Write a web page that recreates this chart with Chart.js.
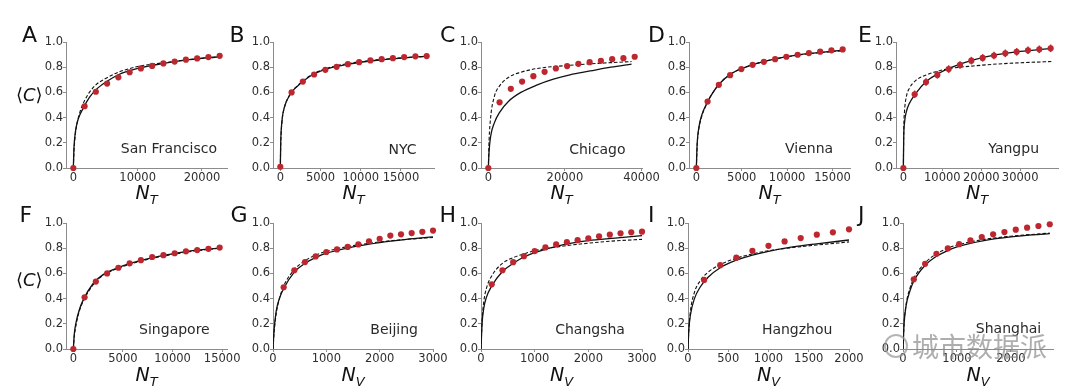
<!DOCTYPE html>
<html>
<head>
<meta charset="utf-8">
<script src="https://cdn.jsdelivr.net/npm/chart.js@4.4.1/dist/chart.umd.min.js"></script>
<style>
  body { margin: 0; width: 1080px; height: 391px; overflow: hidden; position: relative; background: #fff; font-family: "DejaVu Sans", sans-serif; }
  canvas { position: absolute; }
  .lbl { position: absolute; white-space: nowrap; line-height: 1; }
  .letter { font-size: 22px; color: #111; }
  .city { font-size: 14px; color: #2a2a2a; }
  .ylab { font-size: 18px; color: #111; }
  .xt { font-size: 19px; font-style: italic; color: #111; transform: translateX(-50%); }
  .xt sub { font-size: 13px; line-height: 0; }
  .wm { font-family: "Noto Sans CJK SC", sans-serif; font-size: 27px; color: rgba(140,140,140,0.7); }
  .wmicon { position: absolute; width: 20px; height: 20px; border: 2px solid rgba(150,150,150,0.7); border-radius: 50%; }
</style>
</head>
<body>
<script>
// shared y ticks
const yTicks = [0, 0.2, 0.4, 0.6, 0.8, 1.0];
// half length of error bars per panel (A..J)
const errHalf = [0.015, 0.012, 0.01, 0.012, 0.03, 0.012, 0.015, 0.008, 0.008, 0.008];

// A - San Francisco
const aDotX = [0, 1750, 3500, 5250, 7000, 8750, 10500, 12250, 14000, 15750, 17500, 19250, 21000, 22750];
const aDotY = [0, 0.49, 0.605, 0.67, 0.72, 0.76, 0.79, 0.81, 0.83, 0.845, 0.86, 0.87, 0.88, 0.89];
const aCurveX = [0, 100, 300, 600, 1000, 1700, 2500, 3500, 5000, 7000, 10000, 14000, 18000, 23000];
const aSolid = [0, 0.16, 0.28, 0.36, 0.42, 0.49, 0.56, 0.62, 0.68, 0.74, 0.79, 0.83, 0.86, 0.885];
const aDash = [0, 0.13, 0.26, 0.36, 0.44, 0.53, 0.6, 0.66, 0.71, 0.76, 0.805, 0.835, 0.86, 0.882];
const aTicks = [0, 10000, 20000];

// B - NYC
const bDotX = [0, 1400, 2800, 4200, 5600, 7000, 8400, 9800, 11200, 12600, 14000, 15400, 16800, 18200];
const bDotY = [0.01, 0.6, 0.686, 0.742, 0.779, 0.803, 0.824, 0.84, 0.854, 0.864, 0.872, 0.88, 0.886, 0.888];
const bCurveX = [0, 50, 200, 500, 1000, 1500, 2500, 4000, 6000, 8500, 12000, 15500, 18500];
const bSolid = [0, 0.2, 0.37, 0.48, 0.56, 0.61, 0.67, 0.74, 0.79, 0.825, 0.855, 0.875, 0.888];
const bDash = [0, 0.18, 0.36, 0.48, 0.56, 0.61, 0.675, 0.745, 0.795, 0.83, 0.858, 0.876, 0.886];
const bTicks = [0, 5000, 10000, 15000];

// C - Chicago
const cDotX = [0, 2940, 5880, 8820, 11760, 14700, 17640, 20580, 23520, 26460, 29400, 32340, 35280, 38220];
const cDotY = [0, 0.521, 0.628, 0.686, 0.729, 0.763, 0.79, 0.809, 0.827, 0.84, 0.851, 0.864, 0.872, 0.883];
const cCurveX = [0, 200, 600, 1600, 2900, 5300, 8500, 12800, 17000, 21300, 26600, 32000, 37400];
const cSolid = [0, 0.13, 0.25, 0.36, 0.44, 0.53, 0.6, 0.66, 0.705, 0.74, 0.77, 0.8, 0.825];
const cDash = [0, 0.22, 0.4, 0.57, 0.65, 0.72, 0.76, 0.79, 0.805, 0.815, 0.827, 0.836, 0.845];
const cTicks = [0, 20000, 40000];

// D - Vienna
const dDotX = [0, 1240, 2480, 3720, 4960, 6200, 7440, 8680, 9920, 11160, 12400, 13640, 14880, 16120];
const dDotY = [0, 0.527, 0.66, 0.737, 0.785, 0.819, 0.843, 0.864, 0.883, 0.899, 0.912, 0.923, 0.934, 0.941];
const dCurveX = [0, 100, 300, 600, 1000, 1500, 2500, 4000, 6000, 9000, 12000, 16300];
const dSolid = [0, 0.2, 0.33, 0.42, 0.49, 0.56, 0.665, 0.755, 0.815, 0.87, 0.905, 0.935];
const dDash = [0, 0.19, 0.32, 0.41, 0.485, 0.56, 0.665, 0.755, 0.815, 0.87, 0.903, 0.932];
const dTicks = [0, 5000, 10000, 15000];

// E - Yangpu
const eDotX = [0, 2910, 5820, 8730, 11640, 14550, 17460, 20370, 23280, 26190, 29100, 32010, 34920, 37830];
const eDotY = [0, 0.585, 0.682, 0.739, 0.785, 0.818, 0.852, 0.874, 0.893, 0.91, 0.922, 0.934, 0.942, 0.95];
const eCurveX = [0, 100, 300, 800, 1500, 3000, 6000, 9000, 12000, 18000, 24000, 30000, 38000];
const eSolid = [0, 0.25, 0.36, 0.45, 0.51, 0.585, 0.69, 0.75, 0.795, 0.858, 0.9, 0.925, 0.95];
const eDash = [0, 0.3, 0.45, 0.57, 0.63, 0.69, 0.74, 0.77, 0.79, 0.81, 0.825, 0.835, 0.845];
const eTicks = [0, 10000, 20000, 30000];

// F - Singapore
const fDotX = [0, 1135, 2270, 3405, 4540, 5675, 6810, 7945, 9080, 10215, 11350, 12485, 13620, 14750];
const fDotY = [0, 0.41, 0.535, 0.6, 0.645, 0.68, 0.705, 0.73, 0.745, 0.76, 0.775, 0.785, 0.795, 0.805];
const fCurveX = [0, 100, 300, 600, 1000, 2000, 3000, 4500, 6000, 8000, 10000, 12000, 14800];
const fSolid = [0, 0.12, 0.22, 0.31, 0.39, 0.52, 0.59, 0.645, 0.685, 0.725, 0.755, 0.78, 0.8];
const fDash = [0, 0.1, 0.2, 0.3, 0.38, 0.51, 0.585, 0.64, 0.68, 0.72, 0.75, 0.775, 0.8];
const fTicks = [0, 5000, 10000, 15000];

// G - Beijing
const gDotX = [200, 400, 600, 800, 1000, 1200, 1400, 1600, 1800, 2000, 2200, 2400, 2600, 2800, 3000];
const gDotY = [0.49, 0.625, 0.69, 0.735, 0.77, 0.79, 0.81, 0.83, 0.855, 0.875, 0.9, 0.91, 0.92, 0.93, 0.94];
const gCurveX = [0, 20, 60, 120, 200, 400, 600, 800, 1000, 1500, 2000, 2500, 3000];
const gSolid = [0, 0.15, 0.3, 0.4, 0.48, 0.61, 0.68, 0.725, 0.76, 0.81, 0.845, 0.87, 0.89];
const gDash = [0, 0.13, 0.28, 0.4, 0.5, 0.63, 0.7, 0.745, 0.775, 0.82, 0.85, 0.87, 0.885];
const gTicks = [0, 1000, 2000, 3000];

// H - Changsha
const hDotX = [200, 400, 600, 800, 1000, 1200, 1400, 1600, 1800, 2000, 2200, 2400, 2600, 2800, 3000];
const hDotY = [0.513, 0.625, 0.689, 0.737, 0.777, 0.806, 0.83, 0.848, 0.864, 0.878, 0.894, 0.907, 0.918, 0.926, 0.931];
const hCurveX = [0, 20, 50, 100, 200, 400, 600, 800, 1000, 1500, 2000, 2500, 3000];
const hSolid = [0, 0.2, 0.32, 0.41, 0.5, 0.615, 0.68, 0.73, 0.765, 0.825, 0.86, 0.88, 0.9];
const hDash = [0, 0.22, 0.37, 0.48, 0.58, 0.68, 0.725, 0.755, 0.78, 0.815, 0.84, 0.858, 0.87];
const hTicks = [0, 1000, 2000, 3000];

// I - Hangzhou
const iDotX = [200, 400, 600, 800, 1000, 1200, 1400, 1600, 1800, 2000];
const iDotY = [0.548, 0.665, 0.725, 0.779, 0.819, 0.854, 0.88, 0.907, 0.926, 0.95];
const iCurveX = [0, 10, 30, 80, 150, 250, 400, 600, 800, 1000, 1300, 1600, 2000];
const iSolid = [0, 0.15, 0.27, 0.4, 0.49, 0.57, 0.645, 0.705, 0.745, 0.775, 0.81, 0.835, 0.865];
const iDash = [0, 0.15, 0.3, 0.45, 0.54, 0.61, 0.67, 0.72, 0.755, 0.78, 0.805, 0.825, 0.85];
const iTicks = [0, 500, 1000, 1500, 2000];

// J - Shanghai
const jDotX = [200, 410, 620, 830, 1040, 1250, 1460, 1670, 1880, 2090, 2300, 2510, 2720];
const jDotY = [0.553, 0.676, 0.755, 0.798, 0.832, 0.862, 0.888, 0.91, 0.928, 0.947, 0.963, 0.976, 0.99];
const jCurveX = [0, 20, 60, 120, 200, 400, 600, 800, 1000, 1500, 2000, 2720];
const jSolid = [0, 0.2, 0.35, 0.45, 0.54, 0.66, 0.73, 0.775, 0.81, 0.86, 0.89, 0.915];
const jDash = [0, 0.2, 0.36, 0.47, 0.56, 0.68, 0.75, 0.795, 0.825, 0.87, 0.895, 0.92];
const jTicks = [0, 1000, 2000];

const RED = '#bd2830';

// box = [spine x, right x, top y, bottom y] of the plot area on the page
const panels = [
  { dotX: aDotX, dotY: aDotY, curveX: aCurveX, solid: aSolid, dash: aDash, ticks: aTicks, xMin: -1140, xMax: 23890, err: errHalf[0], box: [66, 227, 42, 168] },
  { dotX: bDotX, dotY: bDotY, curveX: bCurveX, solid: bSolid, dash: bDash, ticks: bTicks, xMin: -910, xMax: 19110, err: errHalf[1], box: [273, 434, 42, 168] },
  { dotX: cDotX, dotY: cDotY, curveX: cCurveX, solid: cSolid, dash: cDash, ticks: cTicks, xMin: -1910, xMax: 40130, err: errHalf[2], box: [481, 642, 42, 168] },
  { dotX: dDotX, dotY: dDotY, curveX: dCurveX, solid: dSolid, dash: dDash, ticks: dTicks, xMin: -806, xMax: 16926, err: errHalf[3], box: [689, 850, 42, 168] },
  { dotX: eDotX, dotY: eDotY, curveX: eCurveX, solid: eSolid, dash: eDash, ticks: eTicks, xMin: -1890, xMax: 39720, err: errHalf[4], box: [896, 1058, 42, 168] },
  { dotX: fDotX, dotY: fDotY, curveX: fCurveX, solid: fSolid, dash: fDash, ticks: fTicks, xMin: -738, xMax: 15488, err: errHalf[5], box: [66, 227, 223, 349] },
  { dotX: gDotX, dotY: gDotY, curveX: gCurveX, solid: gSolid, dash: gDash, ticks: gTicks, xMin: 0, xMax: 3000, err: errHalf[6], box: [273, 433, 223, 349] },
  { dotX: hDotX, dotY: hDotY, curveX: hCurveX, solid: hSolid, dash: hDash, ticks: hTicks, xMin: 0, xMax: 3000, err: errHalf[7], box: [481, 642, 223, 349] },
  { dotX: iDotX, dotY: iDotY, curveX: iCurveX, solid: iSolid, dash: iDash, ticks: iTicks, xMin: 0, xMax: 2000, err: errHalf[8], box: [688, 849, 223, 349] },
  { dotX: jDotX, dotY: jDotY, curveX: jCurveX, solid: jSolid, dash: jDash, ticks: jTicks, xMin: 0, xMax: 2780, err: errHalf[9], box: [903, 1053, 223, 349] }
];

// small vertical error bars on the red points
const errorBars = {
  id: 'errorBars',
  afterDatasetsDraw(chart) {
    const ds = chart.data.datasets[0];
    if (!ds.err) return;
    const { ctx, scales: { x, y } } = chart;
    ctx.save();
    ctx.strokeStyle = RED;
    ctx.lineWidth = 1.5;
    ds.data.forEach(pt => {
      if (pt.y === 0) return;
      const px = x.getPixelForValue(pt.x);
      ctx.beginPath();
      ctx.moveTo(px, y.getPixelForValue(pt.y - ds.err));
      ctx.lineTo(px, y.getPixelForValue(pt.y + ds.err));
      ctx.stroke();
    });
    ctx.restore();
  }
};

const zip = (xs, ys) => xs.map((v, i) => ({ x: v, y: ys[i] }));

function axisStyle() {
  return {
    grid: { drawOnChartArea: false, drawTicks: true, tickLength: 3, tickColor: '#8c8c8c', color: '#8c8c8c' },
    border: { display: true, color: '#8c8c8c', width: 1 },
    ticks: { color: '#2e2e2e', font: { family: 'DejaVu Sans', size: 11.5 }, padding: 0, maxRotation: 0, autoSkip: false }
  };
}

function makePanel(p) {
  const [spine, right, top, bottom] = p.box;
  const padL = 5, yW = 45, padT = 8, padR = 25, xH = 30, padB = 2;
  const cv = document.createElement('canvas');
  cv.width = padL + yW + (right - spine) + padR;
  cv.height = padT + (bottom - top) + xH + padB;
  cv.style.left = (spine - padL - yW) + 'px';
  cv.style.top = (top - padT) + 'px';
  document.body.appendChild(cv);

  const xs = axisStyle(), ys = axisStyle();
  new Chart(cv, {
    type: 'scatter',
    data: {
      datasets: [
        { data: zip(p.dotX, p.dotY), err: p.err, backgroundColor: RED, borderColor: RED, pointRadius: 3.1, borderWidth: 0, clip: false, order: 0 },
        { data: zip(p.curveX, p.dash), showLine: true, borderColor: '#111', borderWidth: 1.1, borderDash: [3.5, 2], pointRadius: 0, cubicInterpolationMode: 'monotone', order: 1 },
        { data: zip(p.curveX, p.solid), showLine: true, borderColor: '#111', borderWidth: 1.3, pointRadius: 0, cubicInterpolationMode: 'monotone', order: 2 }
      ]
    },
    options: {
      responsive: false,
      animation: false,
      devicePixelRatio: 1,
      layout: { padding: { left: padL, right: padR, top: padT, bottom: padB } },
      plugins: { legend: { display: false }, tooltip: { enabled: false } },
      scales: {
        x: Object.assign(xs, {
          type: 'linear', min: p.xMin, max: p.xMax,
          afterBuildTicks: a => { a.ticks = p.ticks.map(v => ({ value: v })); },
          afterFit: a => { a.height = xH; a.paddingLeft = 0; a.paddingRight = 0; },
          ticks: Object.assign(xs.ticks, { callback: v => String(v) })
        }),
        y: Object.assign(ys, {
          type: 'linear', min: 0, max: 1,
          afterBuildTicks: a => { a.ticks = yTicks.map(v => ({ value: v })); },
          afterFit: a => { a.width = yW; a.paddingTop = 0; a.paddingBottom = 0; },
          ticks: Object.assign(ys.ticks, { callback: v => v.toFixed(1) })
        })
      }
    },
    plugins: [errorBars]
  });
}

function addText(html, cls, left, top) {
  const d = document.createElement('div');
  d.className = 'lbl ' + cls;
  d.innerHTML = html;
  d.style.left = left + 'px';
  d.style.top = top + 'px';
  document.body.appendChild(d);
}

panels.forEach(makePanel);

// panel letters
const letters = ['A', 'B', 'C', 'D', 'E', 'F', 'G', 'H', 'I', 'J'];
const letterLeft = [22, 229.5, 440, 648, 858, 19.5, 230.5, 439.5, 648, 858];
letters.forEach((l, i) => addText(l, 'letter', letterLeft[i], i < 5 ? 24 : 204));

// y label on first column
addText('⟨<i>C</i>⟩', 'ylab', 16, 86);
addText('⟨<i>C</i>⟩', 'ylab', 16, 271);

// x axis titles
panels.forEach((p, i) => {
  const mid = (p.box[0] + p.box[1]) / 2;
  const sub = i < 6 ? 'T' : 'V';
  addText('N<sub>' + sub + '</sub>', 'xt', mid, i < 5 ? 183 : 365);
});

// city names
const cities = ['San Francisco', 'NYC', 'Chicago', 'Vienna', 'Yangpu', 'Singapore', 'Beijing', 'Changsha', 'Hangzhou', 'Shanghai'];
const cityLeft = [120.8, 388.6, 569.2, 785, 988.3, 139.1, 370.3, 555.2, 761.9, 975.8];
const cityTop = [141, 141.5, 141.5, 141.2, 141, 322.2, 322.2, 322.2, 322.2, 321];
cities.forEach((c, i) => addText(c, 'city', cityLeft[i], cityTop[i]));

// watermark
const icon = document.createElement('div');
icon.className = 'wmicon';
icon.style.left = '884px';
icon.style.top = '334px';
document.body.appendChild(icon);
addText('城市数据派', 'wm', 912, 332);
</script>
</body>
</html>
